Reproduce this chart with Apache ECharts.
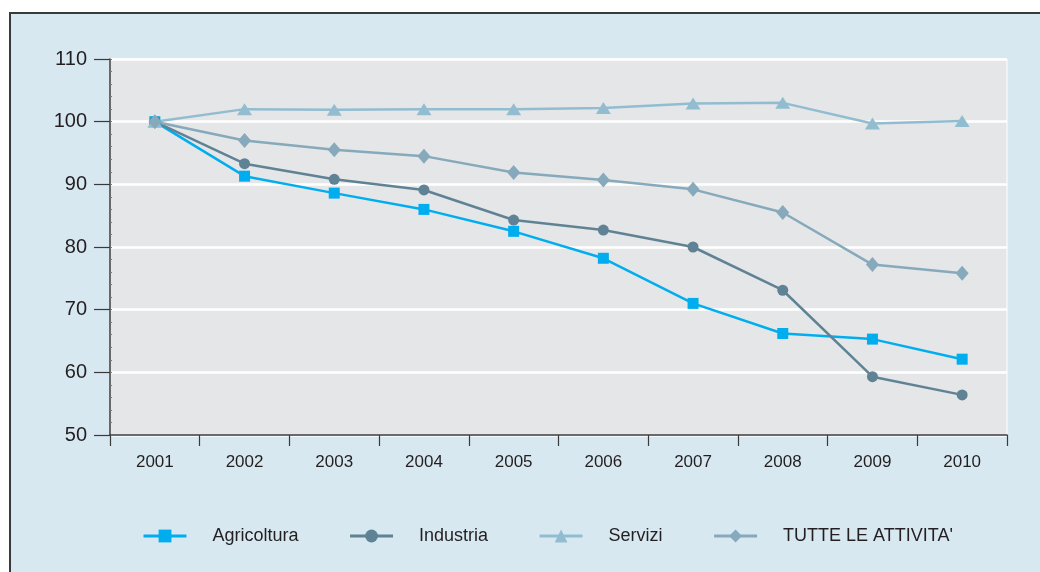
<!DOCTYPE html>
<html>
<head>
<meta charset="utf-8">
<script src="https://cdn.jsdelivr.net/npm/echarts@6/dist/echarts.min.js"></script>
<style>
html,body{margin:0;padding:0;background:#ffffff;width:1040px;height:572px;overflow:hidden;}
#frame{position:absolute;left:9px;top:12px;width:1100px;height:600px;background:#d8e8f1;border-left:2px solid #3a3a3a;border-top:2px solid #3a3a3a;}
#chart{position:absolute;left:0;top:0;width:1040px;height:572px;}
</style>
</head>
<body>
<div id="frame"></div>
<div id="chart"></div>
<script>
const years = ['2001','2002','2003','2004','2005','2006','2007','2008','2009','2010'];
const agricoltura = [100, 91.3, 88.6, 86.0, 82.5, 78.2, 71.0, 66.2, 65.3, 62.1];
const industria   = [100, 93.3, 90.8, 89.1, 84.3, 82.7, 80.0, 73.1, 59.3, 56.4];
const servizi     = [100, 102.0, 101.9, 102.0, 102.0, 102.2, 102.9, 103.0, 99.7, 100.1];
const tutte       = [100, 97.0, 95.5, 94.5, 91.9, 90.7, 89.2, 85.5, 77.2, 75.8];
const seriesNames = ['Agricoltura', 'Industria', 'Servizi', "TUTTE LE ATTIVITA'"];
const yTicks = [50, 60, 70, 80, 90, 100, 110];

const FONT = '"Liberation Sans", Arial, Helvetica, sans-serif';
const chart = echarts.init(document.getElementById('chart'), null, {renderer: 'canvas'});

function mkSeries(name, data, color, symbol, size) {
  return {
    name: name, type: 'line', data: data,
    symbol: symbol, symbolSize: size,
    itemStyle: {color: color},
    lineStyle: {color: color, width: 2.5},
    emphasis: {disabled: true},
    animation: false
  };
}

chart.setOption({
  backgroundColor: 'transparent',
  textStyle: {fontFamily: FONT, color: '#231f20'},
  grid: {left: 110, right: 33, top: 59, bottom: 137, show: true, backgroundColor: '#e5e6e8', borderColor: '#ffffff', borderWidth: 1},
  legend: {
    left: 142, top: 527, padding: 0,
    itemWidth: 43, itemHeight: 16, itemGap: 50,
    lineStyle: {width: 3},
    textStyle: {fontFamily: FONT, fontSize: 18, color: '#231f20', padding: [0, 0, 0, 21]},
    data: seriesNames
  },
  xAxis: {
    type: 'category', data: years, boundaryGap: true,
    axisLine: {lineStyle: {color: '#3a3a3a', width: 1.5}},
    axisTick: {show: true, length: 11, lineStyle: {color: '#3a3a3a', width: 1.2}},
    axisLabel: {fontSize: 17, color: '#231f20', margin: 19, fontFamily: FONT},
    splitLine: {show: false}
  },
  yAxis: [{
    type: 'value', min: yTicks[0], max: yTicks[yTicks.length - 1], interval: 10,
    axisLine: {show: true, lineStyle: {color: '#3a3a3a', width: 1.5}},
    axisTick: {show: true, length: 16, lineStyle: {color: '#3a3a3a', width: 1.2}},
    axisLabel: {fontSize: 20, color: '#231f20', margin: 23, fontFamily: FONT},
    splitLine: {show: true, lineStyle: {color: '#ffffff', width: 2.5}}
  }, {
    type: 'value', min: yTicks[0], max: yTicks[yTicks.length - 1], interval: 2,
    position: 'left', offset: 0,
    axisLine: {show: false},
    axisTick: {show: true, inside: true, length: 2, lineStyle: {color: '#7a7a7a', width: 1}},
    axisLabel: {show: false},
    splitLine: {show: false}
  }],
  series: [
    mkSeries(seriesNames[0], agricoltura, '#00aeef', 'rect', 11),
    mkSeries(seriesNames[1], industria, '#5f8394', 'circle', 11),
    mkSeries(seriesNames[2], servizi, '#92bdd1', 'triangle', [15, 12]),
    mkSeries(seriesNames[3], tutte, '#86a9bb', 'diamond', [13, 15])
  ]
});
</script>
</body>
</html>
